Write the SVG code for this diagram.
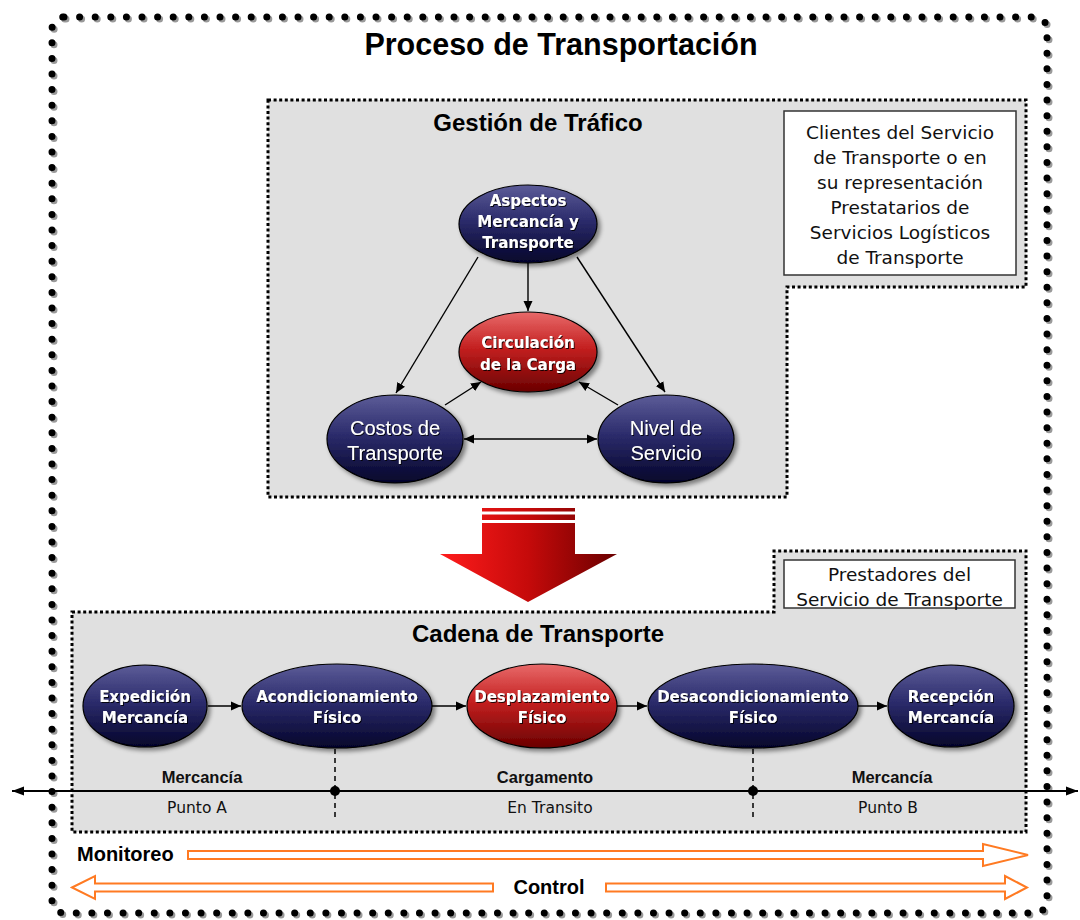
<svg xmlns="http://www.w3.org/2000/svg" width="1080" height="920" viewBox="0 0 1080 920">
<defs>
<style>
.outerDots{fill:none;stroke:#000;stroke-width:7;stroke-dasharray:0 15.6;stroke-linecap:round}
.outerShadow{fill:none;stroke:#9a9a9a;stroke-width:7;stroke-dasharray:0 15.6;stroke-linecap:round}
.panel{fill:#e0e0e0;stroke:#000;stroke-width:3;stroke-dasharray:3 2.6}
.note{fill:#fff;stroke:#333;stroke-width:1.5}
.noteTxt{font-family:"DejaVu Sans",sans-serif;font-size:18.5px;fill:#111;text-anchor:middle}
.hdr{font-family:"Liberation Sans",Arial,sans-serif;font-weight:bold;fill:#000;text-anchor:middle}
.nodeB{font-family:"DejaVu Sans",sans-serif;font-weight:bold;font-size:15px;fill:#fff;text-anchor:middle}
.nodeR{font-family:"Liberation Sans",Arial,sans-serif;font-size:20px;fill:#fff;text-anchor:middle}
.navy{fill:url(#gNavy);stroke:#000;stroke-width:1.2}
.red{fill:url(#gRed);stroke:#000;stroke-width:1.2}
.conn{stroke:#000;stroke-width:1.4;fill:none}
.lbl{font-family:"Liberation Sans",Arial,sans-serif;font-weight:bold;font-size:16.5px;fill:#111;text-anchor:middle}
.pt{font-family:"DejaVu Sans",sans-serif;font-size:15.5px;fill:#111;text-anchor:middle}
.orange{fill:#fff;stroke:#ff7a22;stroke-width:2}
</style>
<linearGradient id="gNavy" x1="0" y1="0" x2="0" y2="1">
<stop offset="0" stop-color="#5c5c98"/>
<stop offset="0.45" stop-color="#2c2c6c"/>
<stop offset="1" stop-color="#04042a"/>
</linearGradient>
<linearGradient id="gRed" x1="0" y1="0" x2="0" y2="1">
<stop offset="0" stop-color="#e86a6a"/>
<stop offset="0.45" stop-color="#c42020"/>
<stop offset="1" stop-color="#6a0000"/>
</linearGradient>
<linearGradient id="gArrow" gradientUnits="userSpaceOnUse" x1="440" y1="0" x2="617" y2="0">
<stop offset="0" stop-color="#ff1c1c"/>
<stop offset="0.5" stop-color="#c50a0a"/>
<stop offset="1" stop-color="#6a0000"/>
</linearGradient>
<filter id="shadow" x="-20%" y="-20%" width="150%" height="150%">
<feDropShadow dx="3" dy="3" stdDeviation="2" flood-color="#000" flood-opacity="0.45"/>
</filter>
<filter id="tshadow" x="-10%" y="-20%" width="130%" height="150%">
<feDropShadow dx="1" dy="1" stdDeviation="0.6" flood-color="#000" flood-opacity="0.85"/>
</filter>
<marker id="ah" viewBox="0 0 10 10" refX="10" refY="5" markerWidth="10" markerHeight="10" markerUnits="userSpaceOnUse" orient="auto-start-reverse">
<path d="M0,0.5 L10,5 L0,9.5 Z" fill="#000"/>
</marker>
<marker id="ahL" viewBox="0 0 12 10" refX="12" refY="5" markerWidth="13" markerHeight="10" markerUnits="userSpaceOnUse" orient="auto-start-reverse">
<path d="M0,0.5 L12,5 L0,9.5 Z" fill="#000"/>
</marker>
</defs>

<rect width="1080" height="920" fill="#fff"/>

<!-- Outer frame -->
<g id="frame">
<rect class="outerShadow" x="54" y="19" width="995" height="896" rx="12"/>
<rect class="outerDots" x="52" y="17" width="995" height="896" rx="12"/>
<text class="hdr" x="561" y="55" font-size="30.5">Proceso de Transportación</text>
</g>

<!-- Gestión de Tráfico panel -->
<g id="gestion">
<path class="panel" d="M268,100 H1026 V287 H787 V497 H268 Z"/>
<text class="hdr" x="538" y="131" font-size="24">Gestión de Tráfico</text>
</g>

<g id="clientes">
<rect class="note" x="784" y="111" width="232" height="164"/>
<text class="noteTxt" x="900" y="139">Clientes del Servicio</text>
<text class="noteTxt" x="900" y="164">de Transporte o en</text>
<text class="noteTxt" x="900" y="189">su representación</text>
<text class="noteTxt" x="900" y="214">Prestatarios de</text>
<text class="noteTxt" x="900" y="239">Servicios Logísticos</text>
<text class="noteTxt" x="900" y="264">de Transporte</text>
</g>

<g id="aspectos">
<ellipse class="navy" cx="528" cy="224" rx="69" ry="39" filter="url(#shadow)"/>
<g filter="url(#tshadow)">
<text class="nodeB" x="528" y="205.5">Aspectos</text>
<text class="nodeB" x="528" y="226.5">Mercancía y</text>
<text class="nodeB" x="528" y="247.5">Transporte</text>
</g>
</g>

<g id="circulacion">
<ellipse class="red" cx="528" cy="352" rx="69" ry="40" filter="url(#shadow)"/>
<g filter="url(#tshadow)">
<text class="nodeB" x="528" y="348">Circulación</text>
<text class="nodeB" x="528" y="370">de la Carga</text>
</g>
</g>

<g id="costos">
<ellipse class="navy" cx="395" cy="439" rx="68" ry="44" filter="url(#shadow)"/>
<g filter="url(#tshadow)">
<text class="nodeR" x="395" y="435">Costos de</text>
<text class="nodeR" x="395" y="460">Transporte</text>
</g>
</g>

<g id="nivel">
<ellipse class="navy" cx="666" cy="439" rx="68" ry="44" filter="url(#shadow)"/>
<g filter="url(#tshadow)">
<text class="nodeR" x="666" y="435">Nivel de</text>
<text class="nodeR" x="666" y="460">Servicio</text>
</g>
</g>

<!-- Big red arrow -->
<g id="flecha">
<rect x="482" y="508" width="93" height="3.5" fill="url(#gArrow)"/>
<rect x="482" y="514.5" width="93" height="5.5" fill="url(#gArrow)"/>
<path d="M482,523 H575 V554 H617 L528,602 L440,554 H482 Z" fill="url(#gArrow)"/>
</g>

<!-- Cadena de Transporte panel -->
<g id="cadena">
<path class="panel" d="M72,612 H774 V551 H1026 V832 H72 Z"/>
<text class="hdr" x="538" y="642" font-size="24">Cadena de Transporte</text>
</g>

<g id="prestadores">
<rect class="note" x="784" y="560" width="231" height="48"/>
<text class="noteTxt" x="899.5" y="581">Prestadores del</text>
<text class="noteTxt" x="899.5" y="606">Servicio de Transporte</text>
</g>

<g id="expedicion">
<ellipse class="navy" cx="145" cy="706" rx="62" ry="41" filter="url(#shadow)"/>
<g filter="url(#tshadow)">
<text class="nodeB" x="145" y="702">Expedición</text>
<text class="nodeB" x="145" y="723">Mercancía</text>
</g>
</g>

<g id="acondicionamiento">
<ellipse class="navy" cx="337" cy="706" rx="95" ry="42" filter="url(#shadow)"/>
<g filter="url(#tshadow)">
<text class="nodeB" x="337" y="702">Acondicionamiento</text>
<text class="nodeB" x="337" y="723">Físico</text>
</g>
</g>

<g id="desplazamiento">
<ellipse class="red" cx="542" cy="706" rx="75" ry="42" filter="url(#shadow)"/>
<g filter="url(#tshadow)">
<text class="nodeB" x="542" y="702">Desplazamiento</text>
<text class="nodeB" x="542" y="723">Físico</text>
</g>
</g>

<g id="desacondicionamiento">
<ellipse class="navy" cx="753" cy="706" rx="105" ry="42" filter="url(#shadow)"/>
<g filter="url(#tshadow)">
<text class="nodeB" x="753" y="702">Desacondicionamiento</text>
<text class="nodeB" x="753" y="723">Físico</text>
</g>
</g>

<g id="recepcion">
<ellipse class="navy" cx="951" cy="706" rx="63" ry="41" filter="url(#shadow)"/>
<g filter="url(#tshadow)">
<text class="nodeB" x="951" y="702">Recepción</text>
<text class="nodeB" x="951" y="723">Mercancía</text>
</g>
</g>

<!-- Connectors -->
<g id="connectors">
<line class="conn" x1="478" y1="257" x2="396" y2="393" marker-end="url(#ah)"/>
<line class="conn" x1="528" y1="263" x2="528" y2="311" marker-end="url(#ah)"/>
<line class="conn" x1="577" y1="257" x2="665" y2="392" marker-end="url(#ah)"/>
<line class="conn" x1="445" y1="405" x2="481" y2="382" marker-end="url(#ah)"/>
<line class="conn" x1="618" y1="405" x2="579" y2="382" marker-end="url(#ah)"/>
<line class="conn" x1="464" y1="439" x2="597" y2="439" marker-start="url(#ah)" marker-end="url(#ah)"/>
<line class="conn" x1="208" y1="706" x2="241" y2="706" marker-end="url(#ah)"/>
<line class="conn" x1="432" y1="706" x2="466" y2="706" marker-end="url(#ah)"/>
<line class="conn" x1="617" y1="706" x2="647" y2="706" marker-end="url(#ah)"/>
<line class="conn" x1="858" y1="706" x2="887" y2="706" marker-end="url(#ah)"/>
<line x1="335" y1="749" x2="335" y2="818" stroke="#000" stroke-width="1.5" stroke-dasharray="5 4"/>
<line x1="753" y1="749" x2="753" y2="818" stroke="#000" stroke-width="1.5" stroke-dasharray="5 4"/>
<line x1="12" y1="791" x2="1078" y2="791" stroke="#000" stroke-width="2" marker-start="url(#ahL)" marker-end="url(#ahL)"/>
<circle cx="335" cy="791" r="5" fill="#000"/>
<circle cx="753" cy="791" r="5" fill="#000"/>
</g>

<g id="etiquetas">
<text class="lbl" x="202" y="783">Mercancía</text>
<text class="lbl" x="545" y="783">Cargamento</text>
<text class="lbl" x="892" y="783">Mercancía</text>
<text class="pt" x="197" y="813">Punto A</text>
<text class="pt" x="550" y="813">En Transito</text>
<text class="pt" x="888" y="813">Punto B</text>
</g>

<!-- Monitoreo / Control -->
<g id="monitoreo">
<text class="hdr" x="77" y="861" font-size="20" style="text-anchor:start">Monitoreo</text>
<path class="orange" d="M188,851 H983 V844 L1028,855 L983,866 V859 H188 Z"/>
</g>
<g id="control">
<path class="orange" d="M72,887.5 L95,876 V883.5 H493 V891.5 H95 V899 Z"/>
<text class="hdr" x="549" y="894" font-size="20">Control</text>
<path class="orange" d="M606,883.5 H1005 V876 L1027,887.5 L1005,899 V891.5 H606 Z"/>
</g>
</svg>
